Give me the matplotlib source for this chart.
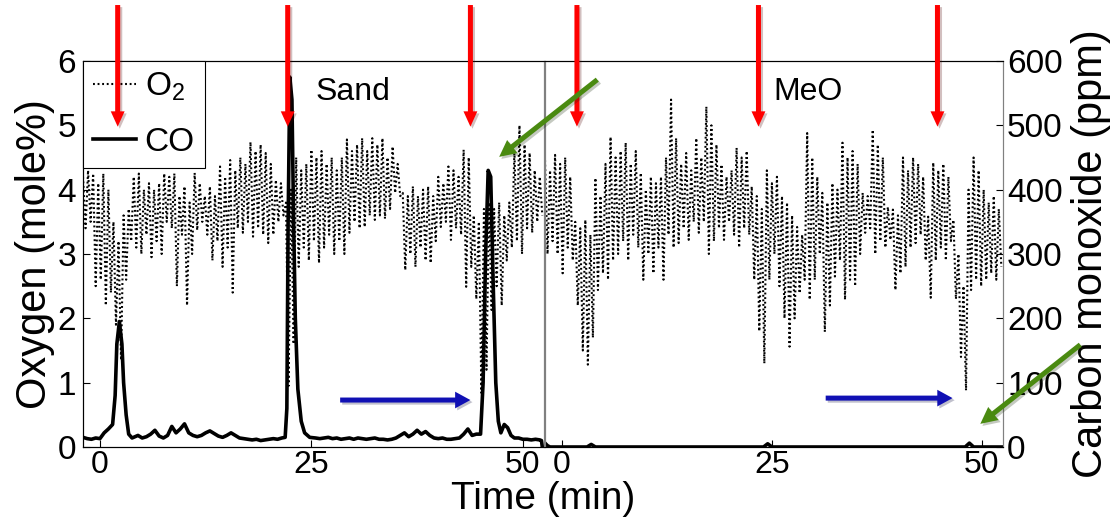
import numpy as np
import matplotlib
matplotlib.use('Agg')
import matplotlib.pyplot as plt
import matplotlib.transforms as mtransforms
import matplotlib.patheffects as pe
from matplotlib.text import Annotation

plt.rcParams['font.family'] = ['Liberation Sans', 'DejaVu Sans']
plt.rcParams['mathtext.fontset'] = 'custom'
plt.rcParams['mathtext.rm'] = 'Liberation Sans'
plt.rcParams['mathtext.default'] = 'regular'

# O2 analyser swings: one high and one low reading per sweep, sweeps every 0.6 min from t=-2
t_start = -2.0
sweep = 0.6

o2_sand_hi = [4.2, 4.3, 4.25, 4.1, 4.25, 4.0, 3.5, 3.2, 3.6, 3.7,
              4.2, 4.25, 4.0, 4.1, 4.0, 4.1, 4.25, 4.2, 4.25, 3.9,
              4.05, 3.8, 4.26, 4.1, 3.9, 4.05, 3.9, 4.36, 4.2, 4.46,
              4.3, 4.5, 4.4, 4.74, 4.6, 4.7, 4.57, 4.4, 4.15, 4.1,
              3.8, 4.0, 4.5, 4.3, 4.4, 4.62, 4.5, 4.6, 4.4, 4.5,
              4.3, 4.5, 4.78, 4.6, 4.7, 4.8, 4.6, 4.8, 4.7, 4.8,
              4.5, 4.67, 4.4, 3.95, 3.9, 4.05, 3.9, 4.0, 4.05, 3.9,
              4.2, 4.1, 4.36, 4.3, 4.2, 4.62, 4.5, 3.6, 3.5, 3.7,
              3.8, 3.7, 3.8, 3.6, 3.8, 4.6, 5.0, 4.7, 4.57, 4.3,
              4.2]
o2_sand_lo = [3.4, 3.5, 2.5, 2.6, 2.2, 2.4, 1.9, 1.35, 2.6, 3.2,
              3.1, 3.0, 3.3, 2.95, 3.2, 3.0, 3.5, 3.4, 2.5, 3.3,
              2.2, 3.0, 3.37, 3.5, 3.3, 2.9, 3.2, 2.8, 3.1, 2.4,
              3.4, 3.33, 3.5, 3.27, 3.4, 3.3, 3.17, 3.3, 3.5, 3.6,
              0.95, 1.6, 2.8, 3.1, 2.9, 3.2, 2.86, 3.1, 3.3, 3.0,
              3.2, 3.0, 3.33, 3.5, 3.4, 3.42, 3.6, 3.53, 3.6, 3.55,
              3.7, 3.95, 3.9, 2.75, 3.0, 2.8, 3.1, 2.9, 2.86, 3.2,
              3.42, 3.5, 3.22, 3.4, 3.3, 2.49, 2.8, 2.3, 0.84, 1.2,
              2.13, 2.5, 2.2, 2.9, 3.1, 3.2, 3.0, 3.4, 3.33, 3.5,
              3.6]

o2_meo_hi = [4.46, 4.3, 4.54, 4.4, 4.5, 4.2, 3.5, 3.4, 3.53, 3.3,
             4.18, 3.9, 4.4, 4.82, 4.5, 4.6, 4.73, 4.4, 4.6, 4.26,
             4.0, 4.2, 4.1, 4.2, 4.5, 5.4, 4.8, 4.4, 4.57, 4.3,
             4.8, 4.5, 5.29, 5.0, 4.7, 4.39, 4.2, 4.3, 4.65, 4.5,
             4.6, 4.05, 3.9, 3.7, 4.3, 4.1, 4.2, 3.9, 3.8, 3.6,
             3.42, 3.3, 4.88, 4.5, 4.2, 3.95, 3.8, 4.1, 4.0, 4.73,
             4.5, 4.6, 4.4, 3.95, 3.9, 4.93, 4.7, 4.5, 3.73, 3.69,
             3.6, 4.5, 4.3, 4.5, 4.4, 4.2, 3.58, 4.42, 4.3, 4.4,
             4.2, 3.53, 3.0, 2.5, 4.0, 4.5, 4.3, 4.0, 3.8, 3.9,
             3.7]
o2_meo_lo = [3.0, 3.2, 3.0, 2.7, 3.1, 2.9, 2.2, 1.5, 1.28, 1.7,
             2.44, 2.7, 2.6, 2.9, 3.0, 3.2, 2.9, 3.3, 3.1, 2.6,
             3.0, 2.7, 3.1, 2.6, 3.3, 3.1, 3.17, 3.4, 3.22, 3.5,
             3.33, 3.5, 3.0, 3.2, 3.4, 3.22, 3.5, 3.3, 3.1, 3.4,
             3.3, 2.6, 1.8, 1.3, 2.6, 3.0, 2.5, 2.0, 1.56, 2.0,
             2.39, 2.6, 2.29, 2.6, 3.0, 1.79, 2.2, 2.65, 2.9, 2.29,
             2.6, 2.5, 3.0, 3.33, 3.4, 3.0, 3.2, 3.1, 3.22, 2.44,
             2.7, 2.8, 3.1, 3.17, 3.3, 2.9, 2.32, 2.9, 3.1, 2.9,
             3.2, 2.3, 1.4, 0.88, 2.44, 2.6, 2.5, 2.6, 2.7, 2.6,
             2.8]

# CO (ppm)
co_sand_t = [-2.0, -1.5, -1.0, -0.5, 0.0, 0.5, 1.0, 1.5, 1.8, 2.0, 2.3, 2.6, 2.8, 3.1, 3.4, 3.8,
             4.5, 5.0, 5.5, 6.0, 6.5, 7.0, 7.5, 8.0, 8.5, 9.0, 9.5, 10.0, 10.5, 11.0, 11.5,
             12.0, 12.5, 13.0, 13.5, 14.0, 14.5, 15.0, 15.5, 16.0, 16.5, 17.0, 17.5, 18.0,
             18.5, 19.0, 19.5, 20.0, 20.5, 21.0, 21.5, 21.9, 22.1, 22.25, 22.45, 22.7, 22.9,
             23.1, 23.4, 23.8, 24.2, 24.8, 25.5, 26.0, 26.5, 27.0, 27.5, 28.0, 28.5, 29.0,
             29.5, 30.0, 30.5, 31.0, 31.5, 32.0, 32.5, 33.0, 33.5, 34.0, 34.5, 35.0, 35.5,
             36.0, 36.5, 37.0, 37.5, 38.0, 38.5, 39.0, 39.5, 40.0, 40.5, 41.0, 41.5, 42.0,
             42.5, 43.0, 43.5, 44.0, 44.5, 45.0, 45.3, 45.6, 45.9, 46.2, 46.5, 46.8, 47.1,
             47.4, 47.8, 48.2, 48.6, 49.0, 49.5, 50.0, 50.5, 51.0, 51.5, 52.0, 52.2, 52.3]
co_sand_ppm = [15, 13, 12, 14, 13, 22, 28, 35, 80, 160, 195, 160, 100, 50, 20, 14,
               18, 14, 16, 20, 26, 17, 14, 18, 32, 22, 28, 36, 22, 18, 16,
               18, 22, 25, 21, 17, 15, 18, 22, 18, 14, 13, 12, 11,
               12, 10, 11, 12, 13, 12, 14, 15, 60, 350, 575, 540, 350,
               200, 90, 40, 22, 15, 14, 13, 14, 15, 13, 14, 12, 13,
               14, 12, 14, 13, 12, 13, 14, 12, 12, 11, 12, 14, 18,
               22, 16, 20, 26, 20, 24, 18, 14, 13, 14, 12, 12, 13,
               14, 20, 28, 18, 20, 20, 100, 300, 430, 420, 250, 100, 40,
               22, 35, 30, 18, 14, 14, 12, 12, 11, 12, 11, 10, 0]

co_meo_t = [-2.0, -1.7, -1.4, 3.0, 3.5, 4.0, 24.0, 24.5, 25.0, 48.0, 48.5, 49.0, 52.5]
co_meo_ppm = [6, 2, 0, 0, 4, 0, 0, 5, 0, 0, 6, 0, 0]

# injection times (red arrows)
inject_sand = [2.1, 22.2, 43.8]
inject_meo = [1.8, 23.4, 44.7]


def zigzag(hi, lo):
    t = t_start + sweep * np.arange(len(hi))
    tt = np.empty(2 * len(hi))
    yy = np.empty(2 * len(hi))
    tt[0::2] = t
    tt[1::2] = t + sweep / 2
    yy[0::2] = hi
    yy[1::2] = lo
    return tt, yy


fig = plt.figure(figsize=(11.15, 5.18), dpi=100)
ax1 = fig.add_axes([83 / 1115, 71 / 518, 461 / 1115, 386 / 518])
ax2 = fig.add_axes([545 / 1115, 71 / 518, 458 / 1115, 386 / 518])
ax1c = ax1.twinx()
ax2c = ax2.twinx()

o2_style = dict(color='black', lw=1.5, linestyle=(0, (0.9, 1.3)))
co_style = dict(color='black', lw=2.6, solid_joinstyle='round')

t, y = zigzag(o2_sand_hi, o2_sand_lo)
o2_line, = ax1.plot(t, y, **o2_style)
co_line, = ax1c.plot(co_sand_t, co_sand_ppm, **co_style)

t, y = zigzag(o2_meo_hi, o2_meo_lo)
ax2.plot(t, y, **o2_style)
ax2c.plot(co_meo_t, co_meo_ppm, **co_style)

for ax in (ax1, ax2):
    ax.set_xlim(-2, 52.5)
    ax.set_ylim(0, 6)
    ax.set_xticks([0, 25, 50])
    ax.tick_params(axis='x', direction='in', length=5, width=0.8, labelsize=23, pad=2)
for ax in (ax1c, ax2c):
    ax.set_ylim(0, 600)

ax1.set_yticks(range(7))
ax1.tick_params(axis='y', direction='in', length=5, width=0.8, labelsize=24, pad=5)
ax1.set_ylabel('Oxygen (mole%)', fontsize=30, labelpad=2)
ax1c.set_yticks([])
ax2.set_yticks([])
ax2c.set_yticks(range(0, 601, 100))
ax2c.tick_params(axis='y', direction='in', length=5, width=0.8, labelsize=24, pad=3)
ax2c.set_ylabel('Carbon monoxide (ppm)', fontsize=30, labelpad=6)

for ax in (ax1, ax1c):
    ax.spines['right'].set_color('#808080')
for ax in (ax2, ax2c):
    ax.spines['left'].set_color('#808080')
    ax.spines['right'].set_color('#808080')

ax1.text(25.5, 5.52, 'Sand', fontsize=23, va='center')
ax2.text(25.2, 5.52, 'MeO', fontsize=23, va='center')

leg = ax1c.legend([o2_line, co_line], ['O$_2$', 'CO'], loc='upper left', fontsize=24,
                  fancybox=False, edgecolor='black', framealpha=1, borderaxespad=0,
                  borderpad=0.3, labelspacing=0.7, handlelength=1.3, handletextpad=0.25)
leg.get_frame().set_linewidth(0.8)

fig.text(0.487, 0.0175, 'Time (min)', fontsize=28, ha='center', va='baseline')


def add_arrow(xy, xytext, coords, color, style):
    ann = Annotation('', xy=xy, xycoords=coords, xytext=xytext, textcoords=coords,
                     annotation_clip=False,
                     arrowprops=dict(arrowstyle=style, color=color, lw=0,
                                     mutation_scale=20, shrinkA=0, shrinkB=0))
    fig.add_artist(ann)
    ann.arrow_patch.set_path_effects([pe.SimplePatchShadow(offset=(1.5, -1.5), alpha=0.25),
                                      pe.Normal()])
    ann.set_zorder(5)


red_style = 'simple,head_length=0.55,head_width=0.5,tail_width=0.18'
for ax, times in ((ax1, inject_sand), (ax2, inject_meo)):
    blend = mtransforms.blended_transform_factory(ax.transData, ax.transAxes)
    for tm in times:
        add_arrow((tm, 0.83), (tm, 1.145), blend, '#ff0000', red_style)

green_style = 'simple,head_length=0.6,head_width=0.6,tail_width=0.18'
blue_style = 'simple,head_length=0.55,head_width=0.6,tail_width=0.18'
add_arrow((47.2, 4.51), (58.8, 5.71), ax1.transData, '#4a8a10', green_style)
add_arrow((49.8, 0.36), (61.7, 1.59), ax2.transData, '#4a8a10', green_style)
add_arrow((43.8, 0.73), (28.4, 0.73), ax1.transData, '#1010b4', blue_style)
add_arrow((46.5, 0.76), (31.4, 0.76), ax2.transData, '#1010b4', blue_style)

fig.savefig('out.png', dpi=100)
